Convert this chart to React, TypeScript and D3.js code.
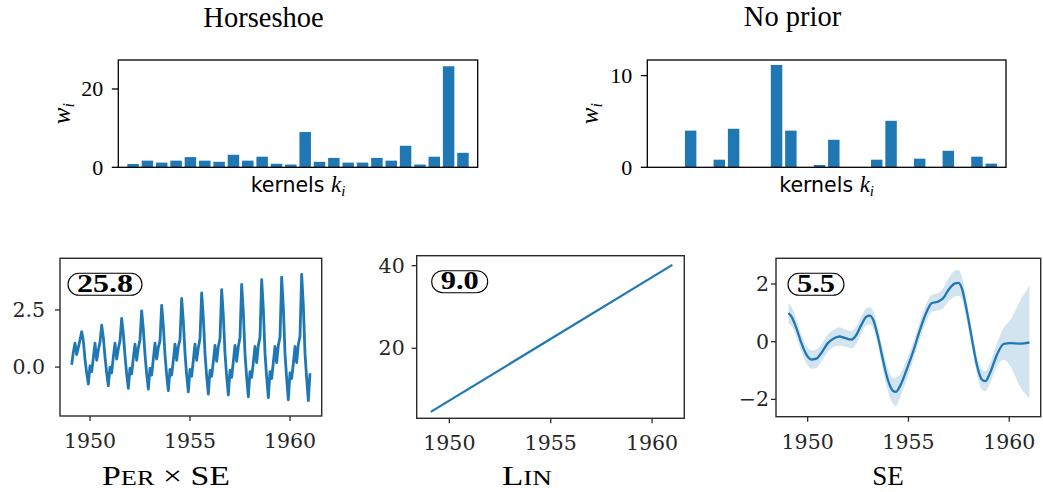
import React from "react";
import * as d3 from "d3";

// ---- kernel weights (top row) ----
const kernelIds = d3.range(24).map((i) => `k${i + 1}`);
const horseshoeWeights = [
  0.84, 1.7, 1.2, 1.7, 2.6, 1.7, 1.4, 3.2, 1.7, 2.7, 0.9, 0.7,
  9.0, 1.4, 2.4, 1.2, 1.2, 2.4, 1.7, 5.5, 0.7, 2.7, 25.8, 3.7,
];
const noPriorWeights = [
  0, 0, 4.0, 0, 0.83, 4.2, 0, 0, 11.16, 4.0, 0, 0.25,
  3.0, 0, 0, 0.83, 5.07, 0, 0.94, 0, 1.8, 0, 1.16, 0.4,
];

// ---- component posterior means (bottom row) ----
// monthly grid for the periodic component
const perSeMonths = d3.range(144).map((i) => 1949 + (i + 1) / 12);
const perSeValues = [
  0.10, 0.65, 1.05, 0.55, 0.85, 1.20, 1.55, 1.15, 0.35, -0.25, -0.74, 0.05,
  -0.20, 0.40, 1.05, 0.30, 0.75, 1.10, 1.83, 1.30, 0.45, -0.25, -0.82, 0.00,
  -0.25, 0.45, 1.05, 0.35, 0.80, 1.15, 2.13, 1.45, 0.50, -0.30, -0.93, -0.05,
  -0.30, 0.40, 1.00, 0.30, 0.85, 1.20, 2.46, 1.65, 0.55, -0.30, -0.96, -0.05,
  -0.35, 0.35, 1.05, 0.35, 0.85, 1.15, 2.70, 1.80, 0.55, -0.35, -1.03, -0.10,
  -0.35, 0.30, 1.00, 0.30, 0.90, 1.20, 3.00, 2.00, 0.60, -0.35, -1.08, -0.10,
  -0.40, 0.30, 1.00, 0.30, 0.85, 1.25, 3.25, 2.15, 0.60, -0.40, -1.18, -0.15,
  -0.40, 0.25, 0.95, 0.25, 0.90, 1.25, 3.39, 2.25, 0.60, -0.40, -1.22, -0.15,
  -0.45, 0.25, 0.95, 0.25, 0.90, 1.30, 3.62, 2.40, 0.60, -0.45, -1.30, -0.20,
  -0.45, 0.20, 0.90, 0.20, 0.95, 1.30, 3.83, 2.55, 0.60, -0.45, -1.34, -0.20,
  -0.50, 0.20, 0.90, 0.20, 0.95, 1.30, 3.94, 2.60, 0.60, -0.50, -1.43, -0.25,
  -0.50, 0.15, 0.90, 0.20, 1.00, 1.35, 4.06, 2.70, 0.60, -0.50, -1.47, -0.27,
];

const linYears = [1949.083, 1961.0];
const linValues = [4.6, 40.2];

const seYears = [
  1949.05, 1949.2, 1949.44, 1949.69, 1949.94, 1950.18, 1950.43, 1950.68,
  1951.0, 1951.34, 1951.59, 1951.84, 1952.17, 1952.42, 1952.67, 1952.92,
  1953.08, 1953.25, 1953.5, 1953.75, 1954.0, 1954.24, 1954.38, 1954.58,
  1954.91, 1955.24, 1955.57, 1955.91, 1956.15, 1956.48, 1956.73, 1956.98,
  1957.31, 1957.48, 1957.65, 1957.9, 1958.14, 1958.39, 1958.64, 1958.81,
  1959.05, 1959.39, 1959.72, 1960.05, 1960.55, 1961.0,
];
const seMean = [
  0.99, 0.87, 0.47, -0.05, -0.45, -0.62, -0.59, -0.39,
  -0.05, 0.13, 0.18, 0.13, 0.07, 0.24, 0.59, 0.87,
  0.9, 0.76, 0.13, -0.68, -1.37, -1.71, -1.74, -1.54,
  -0.97, -0.33, 0.41, 1.05, 1.33, 1.39, 1.51, 1.79,
  2.02, 2.04, 1.85, 1.05, 0.13, -0.79, -1.31, -1.37,
  -1.08, -0.45, -0.08, -0.05, -0.07, -0.02,
];
const seHalfWidth = [
  0.35, 0.33, 0.3, 0.3, 0.3, 0.32, 0.32, 0.3,
  0.3, 0.3, 0.32, 0.3, 0.3, 0.3, 0.3, 0.3,
  0.3, 0.3, 0.3, 0.35, 0.4, 0.45, 0.5, 0.4,
  0.35, 0.3, 0.3, 0.3, 0.3, 0.3, 0.35, 0.4,
  0.45, 0.45, 0.4, 0.35, 0.3, 0.3, 0.35, 0.35,
  0.35, 0.4, 0.55, 0.8, 1.5, 1.95,
];

const componentScores = ["25.8", "9.0", "5.5"];
const yearTicks = [1950, 1955, 1960];

const BLUE = "#1f77b4";
const SERIF = "'Liberation Serif', 'DejaVu Serif', serif";
const TICK_SERIF = "'DejaVu Serif', serif";

type Frame = { x0: number; x1: number; y0: number; y1: number };

function BarPanel(props: {
  frame: Frame;
  values: number[];
  yMax: number;
  yTicks: number[];
  title: string;
  titleX: number;
  titleY: number;
  ylabelX: number;
}) {
  const { frame, values, yMax, yTicks, title, titleX, titleY, ylabelX } = props;
  const x = d3
    .scaleBand<string>()
    .domain(kernelIds)
    .range([frame.x0 + 9, frame.x1 - 9])
    .paddingInner(0.2)
    .paddingOuter(0);
  const y = d3.scaleLinear().domain([0, yMax]).range([frame.y1, frame.y0]);
  const cx = (frame.x0 + frame.x1) / 2;
  return (
    <g>
      <text x={titleX} y={titleY} textAnchor="middle" fontFamily={SERIF} fontSize={28.5} fill="#000">
        {title}
      </text>
      {values.map((v, i) =>
        v > 0 ? (
          <rect
            key={i}
            x={x(kernelIds[i])}
            width={x.bandwidth()}
            y={y(v)}
            height={y(0) - y(v)}
            fill={BLUE}
          />
        ) : null
      )}
      <rect
        x={frame.x0}
        y={frame.y0}
        width={frame.x1 - frame.x0}
        height={frame.y1 - frame.y0}
        fill="none"
        stroke="#000"
        strokeWidth={1.3}
      />
      {yTicks.map((t) => (
        <g key={t}>
          <line x1={frame.x0 - 6.5} x2={frame.x0} y1={y(t)} y2={y(t)} stroke="#000" strokeWidth={1.3} />
          <text
            x={frame.x0 - 15}
            y={y(t) + 7.5}
            textAnchor="end"
            fontFamily={SERIF}
            fontSize={22}
            fill="#000"
          >
            {t}
          </text>
        </g>
      ))}
      <text
        transform={`translate(${ylabelX},${(frame.y0 + frame.y1) / 2}) rotate(-90)`}
        textAnchor="middle"
        fontFamily={SERIF}
        fontSize={25}
        fill="#000"
      >
        <tspan fontStyle="italic">w</tspan>
        <tspan fontStyle="italic" fontSize={16} dy={4}>
          i
        </tspan>
      </text>
      <text x={cx} y={frame.y1 + 24.5} textAnchor="middle" fontFamily="'DejaVu Sans', sans-serif" fontSize={20.5} fill="#000">
        kernels{" "}
        <tspan fontFamily={SERIF} fontStyle="italic" fontSize={23}>
          k
        </tspan>
        <tspan fontFamily={SERIF} fontStyle="italic" fontSize={15} dy={4}>
          i
        </tspan>
      </text>
    </g>
  );
}

function ScoreBadge(props: { x: number; y: number; w: number; label: string }) {
  const { x, y, w, label } = props;
  const h = 22;
  return (
    <g>
      <rect x={x} y={y} width={w} height={h} rx={h / 2} ry={h / 2} fill="#fff" stroke="#000" strokeWidth={1.1} />
      <text
        x={x + w / 2}
        y={y + h - 3.5}
        textAnchor="middle"
        fontFamily={SERIF}
        fontWeight="bold"
        fontSize={25}
        textLength={w - 18}
        lengthAdjust="spacingAndGlyphs"
        fill="#000"
      >
        {label}
      </text>
    </g>
  );
}

function TimePanel(props: {
  frame: Frame;
  xDomain: [number, number];
  yDomain: [number, number];
  yTicks: number[];
  yFormat: (v: number) => string;
  yLabelGap: number;
  children: (x: d3.ScaleLinear<number, number>, y: d3.ScaleLinear<number, number>) => React.ReactNode;
  badge: { dx: number; w: number; label: string };
  xlabel: React.ReactNode;
}) {
  const { frame, xDomain, yDomain, yTicks, yFormat, yLabelGap, children, badge, xlabel } = props;
  const x = d3.scaleLinear().domain(xDomain).range([frame.x0, frame.x1]);
  const y = d3.scaleLinear().domain(yDomain).range([frame.y1, frame.y0]);
  const axisColor = "#2a2a2a";
  return (
    <g>
      {children(x, y)}
      <rect
        x={frame.x0}
        y={frame.y0}
        width={frame.x1 - frame.x0}
        height={frame.y1 - frame.y0}
        fill="none"
        stroke={axisColor}
        strokeWidth={1.4}
      />
      {yearTicks.map((t) => (
        <g key={t}>
          <line x1={x(t)} x2={x(t)} y1={frame.y1} y2={frame.y1 + 5} stroke={axisColor} strokeWidth={1.3} />
          <text x={x(t)} y={frame.y1 + 32} textAnchor="middle" fontFamily={TICK_SERIF} fontSize={20.5} fill="#262626">
            {t}
          </text>
        </g>
      ))}
      {yTicks.map((t) => (
        <g key={t}>
          <line x1={frame.x0 - 5} x2={frame.x0} y1={y(t)} y2={y(t)} stroke={axisColor} strokeWidth={1.3} />
          <text x={frame.x0 - yLabelGap} y={y(t) + 7} textAnchor="end" fontFamily={TICK_SERIF} fontSize={20.5} fill="#262626">
            {yFormat(t)}
          </text>
        </g>
      ))}
      <ScoreBadge x={frame.x0 + badge.dx} y={frame.y0 + 15} w={badge.w} label={badge.label} />
      {xlabel}
    </g>
  );
}

export default function App() {
  const left: Frame = { x0: 118.3, x1: 477.7, y0: 60, y1: 167.3 };
  const right: Frame = { x0: 647.3, x1: 1006, y0: 60, y1: 167.3 };

  const p1: Frame = { x0: 60, x1: 321.7, y0: 258.3, y1: 416 };
  const p2: Frame = { x0: 416.7, x1: 684.3, y0: 255.7, y1: 418.3 };
  const p3: Frame = { x0: 776, x1: 1040.7, y0: 258.3, y1: 416.7 };

  const perSe = perSeMonths.map((t, i) => [t, perSeValues[i]] as [number, number]);
  const lin = linYears.map((t, i) => [t, linValues[i]] as [number, number]);
  const se = seYears.map((t, i) => ({ t, m: seMean[i], h: seHalfWidth[i] }));

  const minus = (v: number) => (v < 0 ? `\u2212${Math.abs(v)}` : `${v}`);

  return (
    <svg
      width={1043}
      height={492}
      viewBox="0 0 1043 492"
      style={{ position: "absolute", left: 0, top: 0, background: "#fff" }}
    >
      <rect width={1043} height={492} fill="#fff" />
      <BarPanel
        frame={left}
        values={horseshoeWeights}
        yMax={27.4}
        yTicks={[0, 20]}
        title="Horseshoe"
        titleX={263.5}
        titleY={27}
        ylabelX={70}
      />
      <BarPanel
        frame={right}
        values={noPriorWeights}
        yMax={11.7}
        yTicks={[0, 10]}
        title="No prior"
        titleX={792.5}
        titleY={26}
        ylabelX={598}
      />

      <TimePanel
        frame={p1}
        xDomain={[1948.5, 1961.585]}
        yDomain={[-2.14, 4.76]}
        yTicks={[0, 2.5]}
        yFormat={(v) => v.toFixed(1)}
        yLabelGap={15}
        badge={{ dx: 8, w: 74, label: componentScores[0] }}
        xlabel={
          <text
            x={166}
            y={485}
            textAnchor="middle"
            fontFamily={SERIF}
            fontSize={27}
            textLength={128}
            lengthAdjust="spacingAndGlyphs"
            fill="#000"
          >
            P<tspan fontSize={21}>ER</tspan> × SE
          </text>
        }
      >
        {(x, y) => (
          <path
            d={d3.line<[number, number]>().x((d) => x(d[0])).y((d) => y(d[1]))(perSe) ?? ""}
            fill="none"
            stroke={BLUE}
            strokeWidth={2.8}
            strokeLinejoin="round"
          />
        )}
      </TimePanel>

      <TimePanel
        frame={p2}
        xDomain={[1948.39, 1961.59]}
        yDomain={[3.05, 42.42]}
        yTicks={[20, 40]}
        yFormat={(v) => `${v}`}
        yLabelGap={12}
        badge={{ dx: 15, w: 56, label: componentScores[1] }}
        xlabel={
          <text
            x={527}
            y={485}
            textAnchor="middle"
            fontFamily={SERIF}
            fontSize={27}
            textLength={50}
            lengthAdjust="spacingAndGlyphs"
            fill="#000"
          >
            L<tspan fontSize={21}>IN</tspan>
          </text>
        }
      >
        {(x, y) => (
          <path
            d={d3.line<[number, number]>().x((d) => x(d[0])).y((d) => y(d[1]))(lin) ?? ""}
            fill="none"
            stroke={BLUE}
            strokeWidth={2.2}
          />
        )}
      </TimePanel>

      <TimePanel
        frame={p3}
        xDomain={[1948.43, 1961.56]}
        yDomain={[-2.6, 2.89]}
        yTicks={[-2, 0, 2]}
        yFormat={minus}
        yLabelGap={7}
        badge={{ dx: 12, w: 56, label: componentScores[2] }}
        xlabel={
          <text x={888} y={485} textAnchor="middle" fontFamily={SERIF} fontSize={27} fill="#000">
            SE
          </text>
        }
      >
        {(x, y) => (
          <g>
            <path
              d={
                d3
                  .area<{ t: number; m: number; h: number }>()
                  .x((d) => x(d.t))
                  .y0((d) => y(d.m - d.h))
                  .y1((d) => y(d.m + d.h))
                  .curve(d3.curveMonotoneX)(se) ?? ""
              }
              fill={BLUE}
              fillOpacity={0.2}
              stroke="none"
            />
            <path
              d={
                d3
                  .line<{ t: number; m: number; h: number }>()
                  .x((d) => x(d.t))
                  .y((d) => y(d.m))
                  .curve(d3.curveMonotoneX)(se) ?? ""
              }
              fill="none"
              stroke={BLUE}
              strokeWidth={2.3}
            />
          </g>
        )}
      </TimePanel>
    </svg>
  );
}
